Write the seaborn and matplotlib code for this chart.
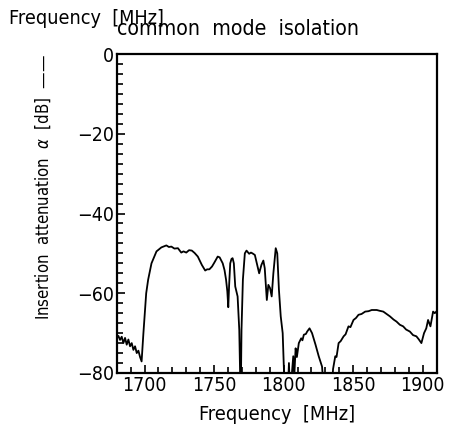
import matplotlib
matplotlib.use("Agg")
import matplotlib.pyplot as plt
import seaborn as sns
import pandas as pd
from matplotlib.ticker import MultipleLocator

freq = [1680, 1681.2, 1682.4, 1683.6, 1684.8, 1686.0, 1687.2, 1688.4, 1689.6, 1690.8,
        1692.0, 1693.2, 1694.4, 1695.6, 1696.8, 1697.9, 1699.2, 1700.2, 1701.2, 1702.6,
        1705, 1708.6, 1712.1, 1715.7, 1717.5, 1719.3, 1721.5, 1724, 1726.4, 1728,
        1730, 1732, 1734, 1736, 1738.3, 1741.2, 1743.6, 1745, 1746.6, 1748.5,
        1750.2, 1752.6, 1754, 1756.2, 1757.5, 1758.6, 1759.5, 1760.2, 1760.8, 1761.6,
        1762.5, 1763.3, 1764.2, 1765.2, 1766.9, 1768.1, 1768.8, 1769.3, 1769.7, 1770.7,
        1772.1, 1773.3, 1775.2, 1776.5, 1777.6, 1779.3, 1780.7, 1782.4, 1784, 1785.4,
        1786.4, 1787.9, 1789, 1790.2, 1791.4, 1792.6, 1794.3, 1795.4, 1796.6, 1797.9,
        1799.3, 1800.2, 1801, 1803, 1803.8, 1804.5, 1805.5, 1806.9, 1807.6, 1808.6,
        1809.5, 1810.9, 1812.6, 1813.5, 1814.5, 1816, 1816.9, 1818.6, 1820.4, 1822.9,
        1825.2, 1827.6, 1829, 1834.5, 1835.5, 1837.1, 1838, 1839.5, 1841, 1843.1,
        1844.5, 1846.6, 1848, 1850.2, 1852, 1853.8, 1856, 1858.6, 1861, 1863.3,
        1866.9, 1869, 1871.6, 1874, 1876.4, 1879, 1881.1, 1883.5, 1885.9, 1888,
        1890.7, 1893, 1895.4, 1897, 1899, 1900.9, 1902.5, 1903.8, 1905.5, 1907.4,
        1908.6, 1910]

atten = [-71.3, -70.7, -71.7, -70.9, -72.5, -71.2, -72.9, -71.6, -73.3, -72.5,
         -74.2, -73.3, -75.0, -74.4, -76.0, -77.1, -70.0, -65.0, -60.0, -56.6,
         -52.5, -49.5, -48.5, -48.0, -48.4, -48.3, -48.8, -48.7, -49.8, -49.5,
         -49.8, -49.2, -49.3, -49.9, -50.8, -52.9, -54.3, -54.0, -54.0, -53.3,
         -52.3, -50.8, -51.0, -52.5, -54.2, -56.6, -59.5, -63.5, -58.0, -52.5,
         -51.4, -51.2, -52.5, -58.3, -60.8, -69.2, -82.0, -82.0, -69.2, -56.6,
         -50.0, -49.3, -50.1, -49.8, -50.0, -50.4, -52.5, -55.0, -52.9, -51.8,
         -53.7, -61.7, -57.9, -58.7, -60.8, -55.0, -48.7, -50.0, -59.1, -65.8,
         -70.0, -79.2, -85.0, -85.0, -77.5, -85.0, -82.0, -75.8, -81.0, -73.8,
         -76.0, -72.5, -71.3, -71.8, -70.4, -70.2, -69.6, -68.8, -70.0, -72.9,
         -75.8, -78.4, -85.0, -85.0, -79.0, -75.8, -76.0, -72.5, -72.0, -70.8,
         -70.3, -68.3, -68.5, -66.7, -66.2, -65.4, -65.2, -64.6, -64.5, -64.2,
         -64.2, -64.4, -64.6, -65.2, -65.8, -66.6, -67.1, -67.9, -68.3, -69.1,
         -69.6, -70.5, -70.8, -71.5, -72.5, -70.0, -68.8, -66.7, -68.3, -64.6,
         -65.0, -64.5]

x_ticks = [1700, 1750, 1800, 1850, 1900]
y_ticks = [0, -20, -40, -60, -80]

sns.set_style("ticks")
plt.rcParams['font.family'] = ['DejaVu Sans']
plt.rcParams['font.stretch'] = 'condensed'
plt.rcParams['text.color'] = 'black'
plt.rcParams['axes.labelcolor'] = 'black'
plt.rcParams['xtick.color'] = 'black'
plt.rcParams['ytick.color'] = 'black'
plt.rcParams['mathtext.fontset'] = 'dejavusans'

W, H = 449, 430
fig = plt.figure(figsize=(W / 100, H / 100), dpi=100)
ax = fig.add_axes([116.7 / W, 1 - 373 / H, 320 / W, 319 / H])

df = pd.DataFrame({"Frequency": freq, "Attenuation": atten})
sns.lineplot(data=df, x="Frequency", y="Attenuation", ax=ax, color="black",
             linewidth=1.3, sort=False)

ax.set_xlim(1680, 1910)
ax.set_ylim(-80, 0)
ax.set_xticks(x_ticks)
ax.set_yticks(y_ticks)
ax.xaxis.set_minor_locator(MultipleLocator(10))
ax.yaxis.set_minor_locator(MultipleLocator(2.5))
ax.tick_params(which="both", direction="in", top=False, right=False,
               labelsize=14, width=1.2, colors="black", pad=2)
ax.tick_params(which="major", length=6)
ax.tick_params(which="minor", length=4)
for s in ax.spines.values():
    s.set_linewidth(1.6)
    s.set_color("black")
    s.set_visible(True)

ax.set_xlabel("Frequency  [MHz]", fontsize=14.3, labelpad=7)
ax.set_ylabel("Insertion  attenuation  $\\alpha$  [dB]  ——", fontsize=12)
ax.yaxis.set_label_coords(-0.20, 0.583)

fig.text(9 / W, 1 - 24 / H, "Frequency  [MHz]", fontsize=14.2, va="baseline", ha="left")
fig.text(117 / W, 1 - 35 / H, "common  mode  isolation", fontsize=15.3, va="baseline", ha="left")

fig.savefig("out.png", dpi=100)
